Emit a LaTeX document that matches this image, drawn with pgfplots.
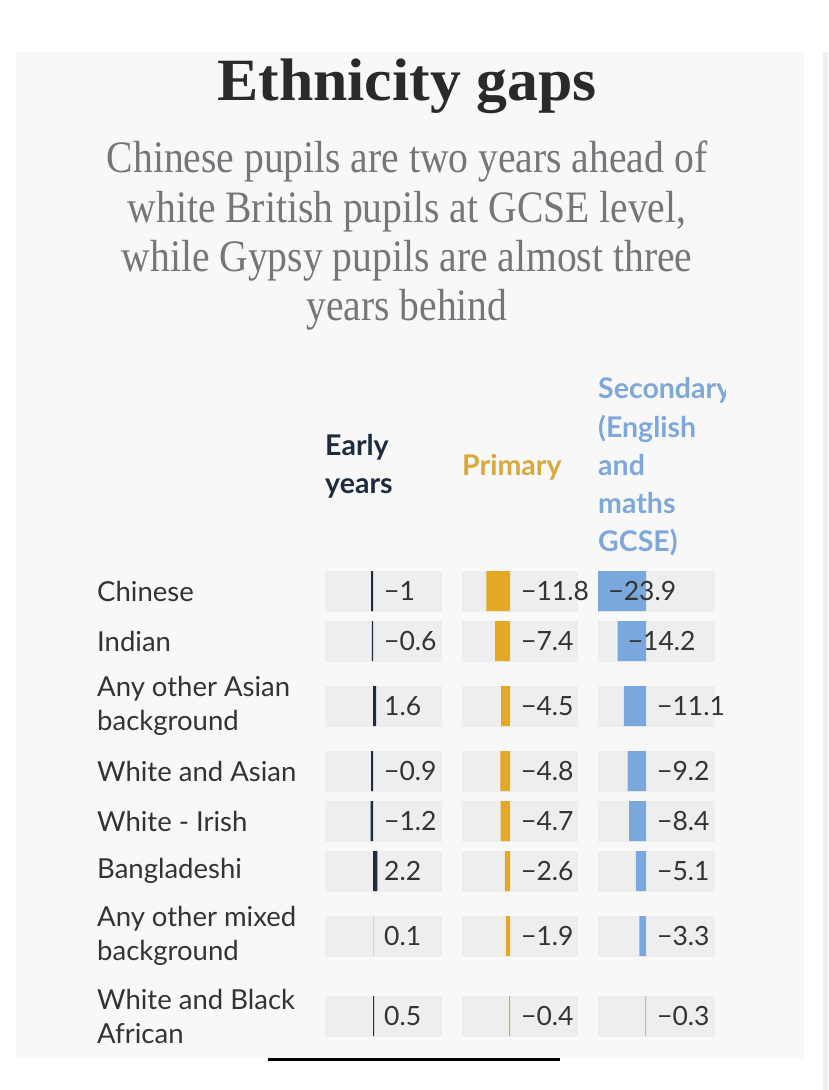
\documentclass[border=0pt]{standalone}
\usepackage{pgfplots}
\pgfplotsset{compat=1.18}
\usepackage{pgfplotstable}
\usepackage{fontspec}
\setmainfont{Lato}
\newfontfamily\titlefont[FakeStretch=1.03]{Liberation Serif}
\newfontfamily\subfont[FakeStretch=0.88]{Liberation Serif}

\definecolor{panel}{HTML}{F8F8F9}
\definecolor{boxc}{HTML}{EEEEEF}
\definecolor{navy}{HTML}{1C2B3D}
\definecolor{gold}{HTML}{E2A826}
\definecolor{blue}{HTML}{7AA8DD}
\definecolor{goldtxt}{HTML}{D9A93A}
\definecolor{bluetxt}{HTML}{7FA8D8}
\definecolor{textc}{HTML}{333333}
\definecolor{titlec}{HTML}{2A2A2A}
\definecolor{subc}{HTML}{75757A}
\definecolor{strip}{HTML}{F1EEF0}

% row centre (pixels from top), value, printed label, label position
\pgfplotstableread{
y v lab lx
591 -1 −1 5.5
641 -0.6 −0.6 5.5
706 1.6 1.6 5.5
771 -0.9 −0.9 5.5
821 -1.2 −1.2 5.5
871 2.2 2.2 5.5
936 0.1 0.1 5.5
1016 0.5 0.5 5.5
}\early
\pgfplotstableread{
y v lab lx
591 -11.8 −11.8 5.5
641 -7.4 −7.4 5.5
706 -4.5 −4.5 5.5
771 -4.8 −4.8 5.5
821 -4.7 −4.7 5.5
871 -2.6 −2.6 5.5
936 -1.9 −1.9 5.5
1016 -0.4 −0.4 5.5
}\primary
\pgfplotstableread{
y v lab lx
591 -23.9 −23.9 -18.9
641 -14.2 −14.2 -9.2
706 -11.1 −11.1 5.5
771 -9.2 −9.2 5.5
821 -8.4 −8.4 5.5
871 -5.1 −5.1 5.5
936 -3.3 −3.3 5.5
1016 -0.3 −0.3 5.5
}\secondary

\newcommand\rowfont{\fontsize{27.5}{34}\selectfont}
\newcommand\valfont{\fontsize{26.5}{34}\selectfont}
\newcommand\hdfont{\fontsize{28.5}{38}\selectfont\bfseries}

\pgfplotsset{
  colaxis/.style={
    anchor=south west,
    x=2pt, y=1pt, y dir=reverse,
    xmin=-24, xmax=34, ymin=550, ymax=1050,
    enlargelimits=false, clip=false,
    axis line style={draw=none},
    xtick=\empty, ytick=\empty,
    major tick length=0pt,
  },
  bgbar/.style={xbar, bar shift=0pt, bar width=40pt, fill=boxc, draw=boxc, line width=0.8pt},
  valbar/.style={xbar, bar shift=0pt, bar width=40pt, draw=none, fill=#1},
  vallab/.style={draw=none, mark=none, nodes near coords,
    point meta=explicit symbolic,
    nodes near coords style={anchor=west, inner sep=0pt, font=\valfont, text=textc}},
}

\begin{document}
\begin{tikzpicture}[x=1pt,y=1pt]
% page and panel
\fill[white] (0,0) rectangle (828,-1090);
\fill[panel] (16,-52) rectangle (804,-1058);
\fill[strip] (823,-52) rectangle (828,-1090);
\draw[black, line width=3pt] (268,-1059) -- (560,-1059);

% title and subtitle
\node[anchor=base, text=titlec, font={\titlefont\bfseries\fontsize{60}{60}\selectfont}] at (407,-100) {Ethnicity gaps};
\begin{scope}[every node/.style={anchor=base, text=subc, font={\subfont\fontsize{45}{50}\selectfont}}]
\node at (407,-172) {Chinese pupils are two years ahead of};
\node at (407,-222) {white British pupils at GCSE level,};
\node at (407,-271) {while Gypsy pupils are almost three};
\node at (407,-320) {years behind};
\end{scope}

% column headers
\begin{scope}[every node/.style={anchor=base west, inner sep=0pt, font=\hdfont}]
\node[text=navy] at (325,-455) {Early};
\node[text=navy] at (325,-493) {years};
\node[text=goldtxt] at (462,-475) {Primary};
\begin{scope}
\clip (590,-360) rectangle (725,-570);
\node[text=bluetxt] at (598,-398) {Secondary};
\node[text=bluetxt] at (598,-437) {(English};
\node[text=bluetxt] at (598,-475) {and};
\node[text=bluetxt] at (598,-513) {maths};
\node[text=bluetxt] at (598,-551) {GCSE)};
\end{scope}
\end{scope}

% Early years
\begin{axis}[colaxis, at={(325pt,-1050pt)},
  ytick={591,641,706,771,821,871,936,1016},
  yticklabels={Chinese, Indian, {Any other Asian\\background}, White and Asian, White - Irish, Bangladeshi, {Any other mixed\\background}, {White and Black\\African}},
  yticklabel style={anchor=west, align=left, inner sep=0pt, font=\rowfont, text=textc, xshift=-228pt},
]
\addplot[bgbar] table[x expr=34, y=y] {\early};
\addplot[bgbar] table[x expr=-24, y=y] {\early};
\addplot[valbar=navy] table[x=v, y=y] {\early};
\addplot[vallab] table[x=lx, y=y, meta=lab] {\early};
\end{axis}

% Primary
\begin{axis}[colaxis, at={(462pt,-1050pt)}]
\addplot[bgbar] table[x expr=33.5, y=y] {\primary};
\addplot[bgbar] table[x expr=-24, y=y] {\primary};
\addplot[valbar=gold] table[x=v, y=y] {\primary};
\addplot[vallab] table[x=lx, y=y, meta=lab] {\primary};
\end{axis}

% Secondary
\begin{axis}[colaxis, at={(598pt,-1050pt)}]
\addplot[bgbar] table[x expr=34, y=y] {\secondary};
\addplot[bgbar] table[x expr=-24, y=y] {\secondary};
\addplot[valbar=blue] table[x=v, y=y] {\secondary};
\addplot[vallab] table[x=lx, y=y, meta=lab] {\secondary};
\end{axis}
\end{tikzpicture}
\end{document}
